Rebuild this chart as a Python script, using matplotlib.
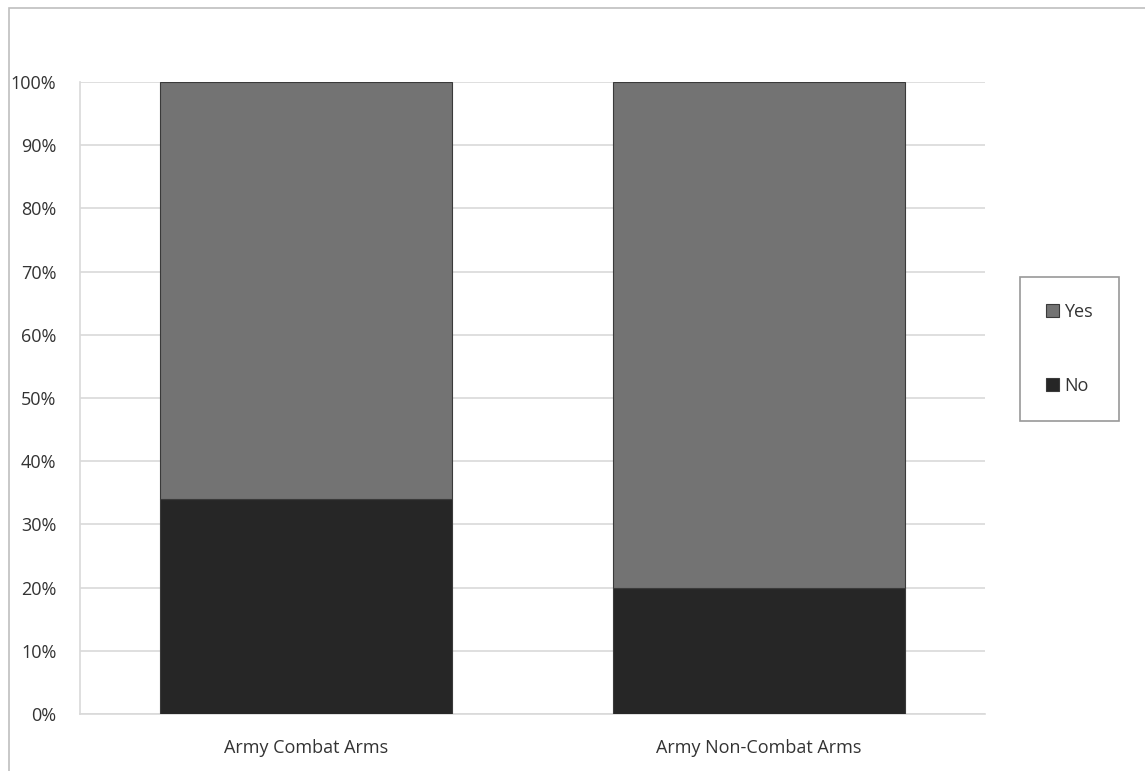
import matplotlib
matplotlib.use("Agg")
import matplotlib.pyplot as plt
from matplotlib.patches import Rectangle
from matplotlib.ticker import PercentFormatter

categories = ["Army Combat Arms", "Army Non-Combat Arms"]
no_vals = [34, 20]
yes_vals = [66, 80]

plt.rcParams['font.family'] = ['Open Sans', 'DejaVu Sans']

fig = plt.figure(figsize=(11.45, 7.71), dpi=100)
ax = fig.add_axes([80/1145, 1-714/771, (985-80)/1145, (714-82)/771])

x = list(range(len(categories)))
w = 0.645
ax.bar(x, no_vals, width=w, color="#262626", edgecolor="#3a3a3a", linewidth=0.8, label="No", zorder=3)
ax.bar(x, yes_vals, width=w, bottom=no_vals, color="#737373", edgecolor="#3a3a3a", linewidth=0.8, label="Yes", zorder=3)

ax.set_xlim(-0.5, 1.5)
ax.set_ylim(0, 100)
ax.set_yticks(range(0, 101, 10))
ax.yaxis.set_major_formatter(PercentFormatter(decimals=0))
ax.set_xticks(x)
ax.set_xticklabels(categories)
ax.tick_params(axis='both', length=0, labelsize=13, colors="#333333")
ax.tick_params(axis='y', pad=17)
ax.tick_params(axis='x', pad=18)
ax.grid(axis='y', color="#d9d9d9", linewidth=1.2, zorder=0)
for s in ['top', 'right']:
    ax.spines[s].set_visible(False)
for s in ['left', 'bottom']:
    ax.spines[s].set_color("#d9d9d9")
    ax.spines[s].set_linewidth(1.2)

handles, labels = ax.get_legend_handles_labels()
leg = fig.legend(handles[::-1], labels[::-1], loc='center',
                 bbox_to_anchor=(1069.5/1145, 1-349/771),
                 frameon=True, fancybox=False, handlelength=0.7, handleheight=0.7,
                 handletextpad=0.3, labelspacing=3.1, borderpad=1.45,
                 fontsize=13, borderaxespad=0)
leg.get_frame().set_edgecolor("#7f7f7f")
leg.get_frame().set_linewidth(1.2)
for t in leg.get_texts():
    t.set_color("#333333")

# outer chart border (partially visible)
fig.patches.append(Rectangle((9/1145, -0.1), 1.2, 1 - 8/771 + 0.1, transform=fig.transFigure,
                             fill=False, edgecolor="#bfbfbf", linewidth=1.2))

fig.savefig("out.png", dpi=100)
